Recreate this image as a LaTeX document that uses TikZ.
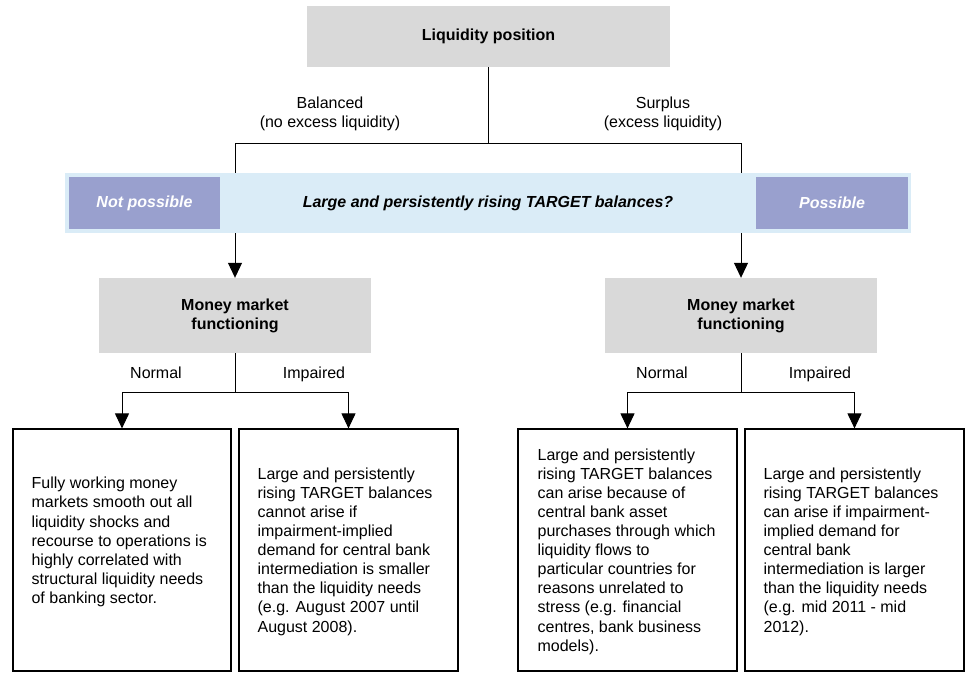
\documentclass[tikz,border=0pt]{standalone}
\usepackage{fontspec}
\setmainfont{Liberation Sans}
\usetikzlibrary{arrows.meta}
\definecolor{boxgray}{RGB}{217,217,217}
\definecolor{bandblue}{RGB}{218,236,247}
\definecolor{tagpurple}{RGB}{153,160,206}
\begin{document}
\begin{tikzpicture}[x=1pt,y=-1pt,
  every node/.style={font=\fontsize{16}{19.1}\selectfont},
  graybox/.style={fill=boxgray, draw=none, inner sep=0, align=center, font=\fontsize{16}{19.1}\selectfont\bfseries},
  textbox/.style={draw=black, line width=1.2pt, fill=white, inner sep=0, minimum height=242pt},
  conn/.style={draw=black, line width=1pt},
  arr/.style={conn, -{Triangle[width=14pt,length=15pt]}},
  tag/.style={fill=tagpurple, text=white, inner sep=0, minimum height=52pt, font=\fontsize{16}{19.1}\selectfont\bfseries\itshape},
  lbl/.style={inner sep=0, align=center},
  branch/.style={inner sep=0, text height=11.6pt, text depth=3.4pt},
  body/.style={inner sep=0, align=left, anchor=west}]
\useasboundingbox (0,0) rectangle (965,672);

% top
\node[graybox, minimum width=363pt, minimum height=61pt] (top) at (488.5,36.5) {Liquidity position};
\coordinate (jL) at (235,143);
\coordinate (jR) at (741,143);
\draw[conn] (top.south) -- (top.south |- jL);
\draw[conn] (jL) -- (jR);
\node[lbl] (bal) at (330,114) {Balanced\\(no excess liquidity)};
\node[lbl] (sur) at (663,114) {Surplus\\(excess liquidity)};

% band
\node[fill=bandblue, inner sep=0, minimum width=846pt, minimum height=60pt] (band) at (488,203) {};
\node[inner sep=0, font=\fontsize{16}{19.1}\selectfont\bfseries\itshape] (q) at (band.center) {Large and persistently rising TARGET balances?};
\node[tag, minimum width=151pt] (np) at (144.5,203) {Not possible};
\node[tag, minimum width=152pt] (po) at (832,203) {Possible};
\draw[conn] (jL) -- (jL |- band.north);
\draw[conn] (jR) -- (jR |- band.north);

% money market boxes
\node[graybox, minimum width=272pt, minimum height=75pt] (mm1) at (235,315.5) {Money market\\functioning};
\node[graybox, minimum width=272pt, minimum height=75pt] (mm2) at (741,315.5) {Money market\\functioning};
\draw[arr] (jL |- band.south) -- (mm1.north);
\draw[arr] (jR |- band.south) -- (mm2.north);

% bottom boxes
\node[textbox, minimum width=218pt] (b1) at (122,550) {};
\node[textbox, minimum width=219pt] (b2) at (348.5,550) {};
\node[textbox, minimum width=219pt] (b3) at (627.5,550) {};
\node[textbox, minimum width=219pt] (b4) at (854.5,550) {};

\coordinate (kL) at (235,392);
\coordinate (kR) at (741,392);
\draw[conn] (mm1.south) -- (kL);
\draw[arr] (kL) -| (b1.north);
\draw[arr] (kL) -| (b2.north);
\draw[conn] (mm2.south) -- (kR);
\draw[arr] (kR) -| (b3.north);
\draw[arr] (kR) -| (b4.north);

\node[branch] (n1) at (156,374) {Normal};
\node[branch] (i1) at (314,374) {Impaired};
\node[branch] (n2) at (662,374) {Normal};
\node[branch] (i2) at (820,374) {Impaired};

\node[body] (t1) at ([xshift=19pt,yshift=8pt]b1.west) {Fully working money\\markets smooth out all\\liquidity shocks and\\recourse to operations is\\highly correlated with\\structural liquidity needs\\of banking sector.};
\node[body] (t2) at ([xshift=19pt,yshift=-1.5pt]b2.west) {Large and persistently\\rising TARGET balances\\cannot arise if\\impairment-implied\\demand for central bank\\intermediation is smaller\\than the liquidity needs\\(e.g. August 2007 until\\August 2008).};
\node[body] (t3) at ([xshift=20pt,yshift=-1.5pt]b3.west) {Large and persistently\\rising TARGET balances\\can arise because of\\central bank asset\\purchases through which\\liquidity flows to\\particular countries for\\reasons unrelated to\\stress (e.g. financial\\centres, bank business\\models).};
\node[body] (t4) at ([xshift=19pt,yshift=-1.5pt]b4.west) {Large and persistently\\rising TARGET balances\\can arise if impairment-\\implied demand for\\central bank\\intermediation is larger\\than the liquidity needs\\(e.g. mid 2011 - mid\\2012).};
\end{tikzpicture}
\end{document}
